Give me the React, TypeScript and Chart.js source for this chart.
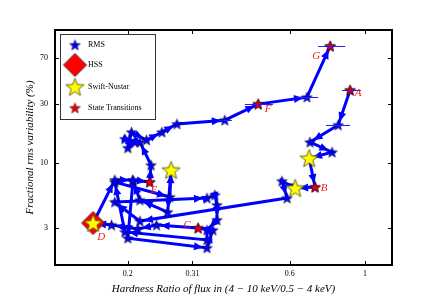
import React, { useEffect, useRef } from "react";
import { Chart, registerables } from "chart.js";
Chart.register(...registerables);

// ---- data ----
const hardness = [0.903, 0.833, 0.688, 0.799, 0.684, 0.712, 0.622, 0.569, 0.589, 0.217, 0.183, 0.342, 0.361, 0.366, 0.366, 0.342, 0.342, 0.196, 0.183, 0.266, 0.268, 0.262, 0.217, 0.207, 0.200, 0.342, 0.356, 0.322, 0.243, 0.214, 0.179, 0.158, 0.183, 0.207, 0.232, 0.234, 0.217, 0.196, 0.210, 0.200, 0.205, 0.227, 0.252, 0.279, 0.386, 0.484, 0.674, 0.789];
const rms = [38.6, 20.2, 14.7, 12.2, 10.9, 6.38, 6.26, 7.13, 5.20, 3.39, 4.83, 5.20, 5.50, 4.57, 3.46, 2.87, 2.39, 2.77, 7.0, 5.30, 8.74, 4.01, 5.01, 7.13, 2.47, 2.06, 2.87, 2.98, 3.15, 2.93, 3.15, 3.27, 7.27, 7.27, 7.0, 9.6, 14.7, 15.6, 14.7, 13.2, 17.7, 15.3, 17.7, 20.6, 22.1, 29.8, 33.9, 87.4];

const errHard = [0.789, 0.674, 0.484, 0.903, 0.833, 0.386];
const errRms = [87.4, 33.9, 29.8, 38.6, 20.2, 22.1];
const errLow = [0.727, 0.626, 0.443, 0.855, 0.767, 0.373];
const errHigh = [0.873, 0.727, 0.535, 0.973, 0.903, 0.405];

const transLabels = ["A", "B", "C", "D", "E", "F", "G"];
const transHard = [0.903, 0.712, 0.322, 0.158, 0.232, 0.484, 0.789];
const transRms = [38.6, 6.38, 2.98, 3.27, 7.0, 29.8, 87.4];

const swiftHard = [0.268, 0.684, 0.622, 0.158];
const swiftRms = [8.74, 10.9, 6.26, 3.27];

const hssHard = [0.158];
const hssRms = [3.27];

const xTicks = [0.2, 0.31, 0.6, 1];
const yTicks = [3, 10, 30, 70];

const legendLabels = ["RMS", "HSS", "Swift-Nustar", "State Transitions"];

// ---- styling helpers ----
const SERIF = "'Liberation Serif', 'DejaVu Serif', serif";

function starCanvas(R: number, fill: string, stroke: string, lw: number) {
  const pad = 2;
  const s = Math.ceil(2 * R + 2 * pad);
  const c = document.createElement("canvas");
  c.width = s;
  c.height = s;
  const ctx = c.getContext("2d")!;
  const cx = s / 2,
    cy = s / 2 + R * 0.08;
  const r = R * 0.42;
  ctx.beginPath();
  for (let i = 0; i < 10; i++) {
    const a = -Math.PI / 2 + (i * Math.PI) / 5;
    const rr = i % 2 === 0 ? R : r;
    ctx.lineTo(cx + rr * Math.cos(a), cy + rr * Math.sin(a));
  }
  ctx.closePath();
  ctx.fillStyle = fill;
  ctx.fill();
  ctx.lineWidth = lw;
  ctx.strokeStyle = stroke;
  ctx.stroke();
  return c;
}

function diamondCanvas(R: number, fill: string, stroke: string, lw: number) {
  const pad = 2;
  const s = Math.ceil(2 * R + 2 * pad);
  const c = document.createElement("canvas");
  c.width = s;
  c.height = s;
  const ctx = c.getContext("2d")!;
  const cx = s / 2,
    cy = s / 2;
  ctx.beginPath();
  ctx.moveTo(cx, cy - R);
  ctx.lineTo(cx + R, cy);
  ctx.lineTo(cx, cy + R);
  ctx.lineTo(cx - R, cy);
  ctx.closePath();
  ctx.fillStyle = fill;
  ctx.fill();
  ctx.lineWidth = lw;
  ctx.strokeStyle = stroke;
  ctx.stroke();
  return c;
}

const labelOffsets: Record<string, [number, number]> = {
  A: [8, 3],
  B: [9, 1],
  C: [-11, -3],
  D: [8, 14],
  E: [4, 8],
  F: [10, 5],
  G: [-14, 10],
};

export default function App() {
  const ref = useRef<HTMLCanvasElement>(null);

  useEffect(() => {
    document.body.style.margin = "0";
    const canvas = ref.current!;
    const blueStar = starCanvas(5.5, "#0000ff", "#000033", 0.6);
    const redStar = starCanvas(5.5, "#ee0000", "#330000", 0.6);
    const yellowStar = starCanvas(9.5, "#ffff00", "#444400", 0.8);
    const diamond = diamondCanvas(11.5, "#ff0000", "#220000", 0.8);

    const overlay = {
      id: "overlay",
      afterDatasetDraw(chart: any, args: any) {
        if (args.index !== 0) return;
        const ctx = chart.ctx;
        const pts = args.meta.data;
        ctx.save();
        ctx.fillStyle = "#0000ff";
        for (let i = 0; i < pts.length - 1; i++) {
          const p0 = pts[i],
            p1 = pts[i + 1];
          const dx = p1.x - p0.x,
            dy = p1.y - p0.y;
          const len = Math.hypot(dx, dy);
          if (len < 8) continue;
          const ux = dx / len,
            uy = dy / len;
          const tipX = p1.x - ux * 4,
            tipY = p1.y - uy * 4;
          const L = 9,
            W = 4;
          const bx = tipX - ux * L,
            by = tipY - uy * L;
          ctx.beginPath();
          ctx.moveTo(tipX, tipY);
          ctx.lineTo(bx - uy * W, by + ux * W);
          ctx.lineTo(bx + uy * W, by - ux * W);
          ctx.closePath();
          ctx.fill();
        }
        ctx.restore();
      },
      afterDatasetsDraw(chart: any) {
        const ctx = chart.ctx;
        const xs = chart.scales.x,
          ys = chart.scales.y;
        // error bars
        ctx.save();
        ctx.strokeStyle = "#2020ff";
        ctx.lineWidth = 1;
        for (let i = 0; i < errHard.length; i++) {
          const y = Math.round(ys.getPixelForValue(errRms[i])) + 0.5;
          const x0 = xs.getPixelForValue(errLow[i]);
          const x1 = xs.getPixelForValue(errHigh[i]);
          ctx.beginPath();
          ctx.moveTo(x0, y);
          ctx.lineTo(x1, y);
          ctx.stroke();
        }
        ctx.restore();
        // letter labels
        const meta = chart.getDatasetMeta(1);
        ctx.save();
        ctx.fillStyle = "#ff1a1a";
        ctx.font = `italic 11px ${SERIF}`;
        ctx.textAlign = "center";
        ctx.textBaseline = "middle";
        meta.data.forEach((p: any, i: number) => {
          const lab = transLabels[i];
          const off = labelOffsets[lab] || [0, 0];
          ctx.fillText(lab, p.x + off[0], p.y + off[1]);
        });
        ctx.restore();
      },
      afterDraw(chart: any) {
        const ctx = chart.ctx;
        const { left, right, top, bottom } = chart.chartArea;
        const xs = chart.scales.x,
          ys = chart.scales.y;
        ctx.save();
        // ticks
        ctx.strokeStyle = "#000";
        ctx.lineWidth = 1;
        xTicks.forEach((v) => {
          const px = Math.round(xs.getPixelForValue(v)) + 0.5;
          ctx.beginPath();
          ctx.moveTo(px, bottom);
          ctx.lineTo(px, bottom - 4);
          ctx.moveTo(px, top);
          ctx.lineTo(px, top + 4);
          ctx.stroke();
        });
        yTicks.forEach((v) => {
          const py = Math.round(ys.getPixelForValue(v)) + 0.5;
          ctx.beginPath();
          ctx.moveTo(left, py);
          ctx.lineTo(left + 4, py);
          ctx.moveTo(right, py);
          ctx.lineTo(right - 4, py);
          ctx.stroke();
        });
        // frame
        ctx.lineWidth = 2;
        ctx.strokeRect(left, top, right - left, bottom - top);
        // legend
        const bx = 60,
          by = 34,
          bw = 95,
          bh = 85;
        ctx.fillStyle = "#fff";
        ctx.fillRect(bx, by, bw, bh);
        ctx.lineWidth = 1;
        ctx.strokeStyle = "#333";
        ctx.strokeRect(bx + 0.5, by + 0.5, bw, bh);
        const icons = [blueStar, diamond, yellowStar, redStar];
        const rowsY = [45, 65, 87, 108];
        ctx.font = `8px ${SERIF}`;
        ctx.fillStyle = "#000";
        ctx.textAlign = "left";
        ctx.textBaseline = "middle";
        icons.forEach((im, i) => {
          ctx.drawImage(im, 75 - im.width / 2, rowsY[i] - im.height / 2);
          ctx.fillText(legendLabels[i], 88, rowsY[i]);
        });
        ctx.restore();
      },
    };

    const chart = new Chart(canvas, {
      type: "scatter",
      data: {
        datasets: [
          {
            label: "RMS",
            data: hardness.map((x, i) => ({ x, y: rms[i] })),
            showLine: true,
            borderColor: "#0000ff",
            borderWidth: 3,
            pointStyle: blueStar as any,
            pointRadius: 5.5,
            order: 4,
          },
          {
            label: "State Transitions",
            data: transHard.map((x, i) => ({ x, y: transRms[i] })),
            pointStyle: redStar as any,
            pointRadius: 5.5,
            order: 3,
          },
          {
            label: "HSS",
            data: hssHard.map((x, i) => ({ x, y: hssRms[i] })),
            pointStyle: diamond as any,
            pointRadius: 11.5,
            order: 2,
          },
          {
            label: "Swift-Nustar",
            data: swiftHard.map((x, i) => ({ x, y: swiftRms[i] })),
            pointStyle: yellowStar as any,
            pointRadius: 9.5,
            order: 1,
          },
        ],
      },
      options: {
        animation: false,
        responsive: false,
        events: [],
        layout: { padding: { top: 30, right: 44, left: 0, bottom: 0 } },
        plugins: { legend: { display: false }, tooltip: { enabled: false } },
        scales: {
          x: {
            type: "logarithmic",
            min: 0.122,
            max: 1.2,
            grid: { display: false, drawTicks: false },
            border: { display: false },
            afterBuildTicks: (s: any) => {
              s.ticks = xTicks.map((v) => ({ value: v }));
            },
            afterFit: (s: any) => {
              s.height = 31;
            },
            ticks: {
              autoSkip: false,
              maxRotation: 0,
              padding: 4,
              color: "#000",
              font: { family: SERIF, size: 8 },
              callback: (v: any) => String(v),
            },
            title: {
              display: true,
              text: "Hardness Ratio of flux in (4 − 10 keV/0.5 − 4 keV)",
              color: "#000",
              font: { family: SERIF, size: 11, style: "italic" },
              padding: { top: 0, bottom: 0 },
            },
          },
          y: {
            type: "logarithmic",
            min: 1.5,
            max: 118,
            grid: { display: false, drawTicks: false },
            border: { display: false },
            afterBuildTicks: (s: any) => {
              s.ticks = yTicks.map((v) => ({ value: v }));
            },
            afterFit: (s: any) => {
              s.width = 55;
            },
            ticks: {
              autoSkip: false,
              padding: 7,
              color: "#000",
              font: { family: SERIF, size: 8 },
              callback: (v: any) => String(v),
            },
            title: {
              display: true,
              text: "Fractional rms variability (%)",
              color: "#000",
              font: { family: SERIF, size: 11, style: "italic" },
              padding: { top: 24, bottom: 0 },
            },
          },
        },
      },
      plugins: [overlay],
    } as any);
    return () => chart.destroy();
  }, []);

  return (
    <canvas
      ref={ref}
      width={436}
      height={296}
      style={{ display: "block", width: 436, height: 296 }}
    />
  );
}
